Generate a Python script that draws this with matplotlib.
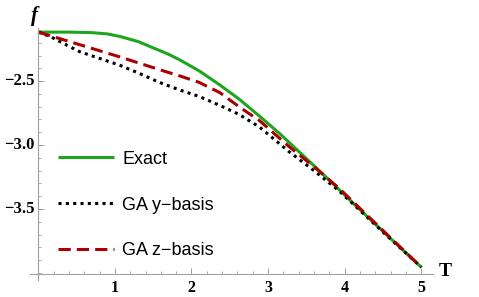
"""
Free energy f vs temperature T: exact result against GA in y- and z-basis.
"""

import matplotlib

matplotlib.use("Agg")
import matplotlib.pyplot as plt
from matplotlib.ticker import FixedLocator, MultipleLocator

# values
t_exact = [0.0, 0.4, 0.7, 0.9, 1.06, 1.3, 1.5, 1.7, 1.85, 2.1, 2.37, 2.62, 2.89, 3.15,
           3.4, 3.65, 3.93, 4.19, 4.58, 5.0]
f_exact = [-2.117, -2.117, -2.121, -2.131, -2.15, -2.19, -2.24, -2.29, -2.335, -2.42,
           -2.53, -2.64, -2.775, -2.91, -3.05, -3.19, -3.35, -3.50, -3.72, -3.955]

t_ga_y = [0.0, 0.15, 0.54, 1.06, 1.32, 1.58, 1.85, 2.1, 2.37, 2.62, 2.89, 3.27, 3.6,
          3.93, 4.58, 5.0]
f_ga_y = [-2.117, -2.15, -2.27, -2.375, -2.44, -2.51, -2.57, -2.62, -2.69, -2.76, -2.86,
          -3.05, -3.20, -3.36, -3.725, -3.955]

t_ga_z = [0.0, 0.54, 1.06, 1.32, 1.58, 1.85, 2.1, 2.37, 2.62, 2.89, 3.27, 3.6, 3.93,
          4.58, 5.0]
f_ga_z = [-2.117, -2.215, -2.31, -2.36, -2.41, -2.46, -2.51, -2.59, -2.70, -2.81, -3.01,
          -3.17, -3.34, -3.715, -3.955]

x_major = [1, 2, 3, 4, 5]
y_major = [-3.5, -3.0, -2.5]
y_labels = ["\u22123.5", "\u22123.0", "\u22122.5"]

GREEN = "#1ea51e"
RED = "#aa0000"
AXIS_GRAY = "#a0a0a0"

# tick labels in bold Times-like serif, as Mathematica draws them here
plt.rcParams["font.family"] = ["Liberation Serif"]
plt.rcParams["font.weight"] = "bold"

fig = plt.figure(figsize=(4.79, 2.97), dpi=100)
ax = fig.add_axes([0.0626, 0.0572, 0.841, 0.848])

ax.plot(t_exact, f_exact, color=GREEN, lw=2.2, label="Exact", solid_capstyle="butt")
ax.plot(t_ga_y, f_ga_y, color="black", lw=2.2, linestyle=(0, (1, 1.4)), label="GA y\u2212basis")
ax.plot(t_ga_z, f_ga_z, color=RED, lw=2.2, linestyle=(0, (4, 2)), label="GA z\u2212basis")

ax.set_xlim(-0.108, 5.15)
ax.set_ylim(-4.055, -2.086)

# Mathematica-style axes crossing near (0, -4.0)
for side in ("top", "right"):
    ax.spines[side].set_visible(False)
ax.spines["left"].set_position(("data", 0.0))
ax.spines["bottom"].set_position(("data", -4.008))
for side in ("left", "bottom"):
    ax.spines[side].set_color(AXIS_GRAY)
    ax.spines[side].set_linewidth(0.8)

ax.xaxis.set_major_locator(FixedLocator(x_major))
ax.xaxis.set_minor_locator(MultipleLocator(0.2))
ax.yaxis.set_major_locator(FixedLocator(y_major))
ax.yaxis.set_minor_locator(FixedLocator([-4.0 + 0.1 * i for i in range(20)]))
ax.set_xticklabels([str(v) for v in x_major])

ax.tick_params(which="major", direction="in", length=4, width=0.7, color=AXIS_GRAY, pad=4)
ax.tick_params(which="minor", direction="in", length=2.2, width=0.6, color=AXIS_GRAY)
ax.tick_params(axis="x", labelsize=11.5)
ax.tick_params(axis="y", labelleft=False)

# y tick labels drawn by hand so the bold serif face sticks next to the moved spine
for yv, lbl in zip(y_major, y_labels):
    ax.text(-0.045, yv, lbl, ha="right", va="center", fontsize=12,
            family="Liberation Serif", weight="bold")

ax.text(0.012, 1.05, "f", transform=ax.transAxes, ha="center", va="center",
        style="italic", fontsize=15)
ax.text(1.03, 0.032, "T", transform=ax.transAxes, ha="center", va="center", fontsize=14)

ax.legend(loc="lower left", bbox_to_anchor=(0.03, 0.018), frameon=False,
          prop=dict(family="Liberation Sans", weight="normal", size=13), handlelength=3.1,
          handletextpad=0.45, labelspacing=1.59)

fig.savefig("out.png", dpi=100)
